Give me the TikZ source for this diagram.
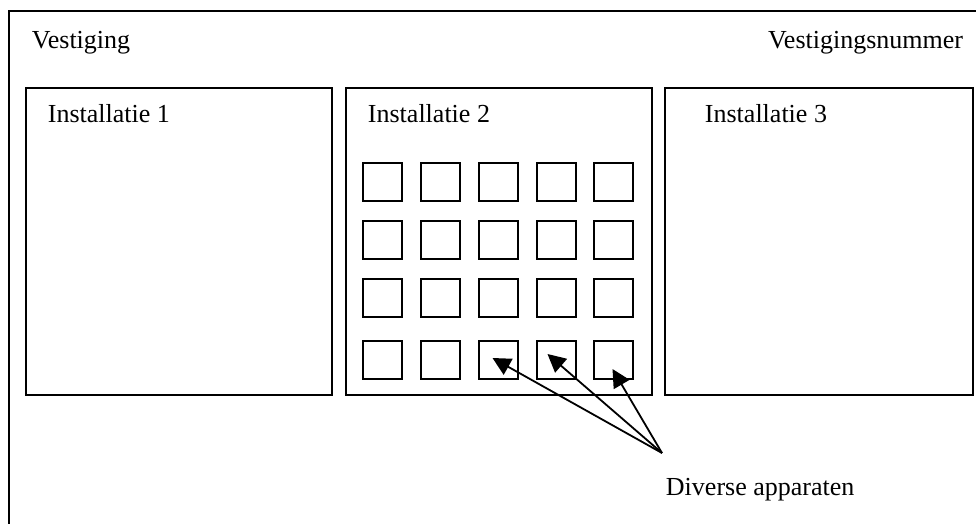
\documentclass[tikz,border=0pt]{standalone}
\usepackage{fontspec}
\setmainfont{Liberation Serif}
\usetikzlibrary{arrows.meta,calc}
\begin{document}
\begin{tikzpicture}[x=1pt,y=-1pt,
  line width=1.9pt,
  frame/.style={draw,line width=1.9pt},
  inst/.style={draw,line width=1.9pt,minimum width=306pt,minimum height=307pt,inner sep=0pt,anchor=north west},
  app/.style={draw,line width=1.9pt,minimum width=39pt,minimum height=38pt,inner sep=0pt},
  lbl/.style={inner sep=0pt,anchor=base west,font=\fontsize{26}{30}\selectfont},
  pointer/.style={line width=1.8pt,-{Triangle[length=18pt,width=18pt]}}]
\useasboundingbox (0,0) rectangle (976,523);
\clip (0,0) rectangle (976,523);
\draw[frame] (9,11) rectangle (1000,560);
\node[lbl] (vest) at (31,48) {Vestiging};
\node[lbl,anchor=base east] (vnum) at (964,48) {Vestigingsnummer};
\node[inst] (i1) at (25,87) {};
\node[inst] (i2) at (345,87) {};
\node[inst,minimum width=308pt] (i3) at (664,87) {};
\node[lbl] (t1) at (47,122) {Installatie 1};
\node[lbl] (t2) at (367,122) {Installatie 2};
\node[lbl] (t3) at (704,122) {Installatie 3};
\foreach \r/\y in {1/182,2/240,3/298,4/360}{
  \foreach \c/\x in {1/382.5,2/440.5,3/498.5,4/556.5,5/613.5}{
    \node[app] (sq\r\c) at (\x,\y) {};
  }
}
\coordinate (hub) at (662,453);
\node[lbl] (dav) at (665,495) {Diverse apparaten};
\draw[pointer] (hub) -- ($(sq43.center)+(-6,-2)$);
\draw[pointer] (hub) -- ($(sq44.center)+(-9,-6)$);
\draw[pointer] (hub) -- ($(sq45.center)+(-1,9)$);
\end{tikzpicture}
\end{document}
